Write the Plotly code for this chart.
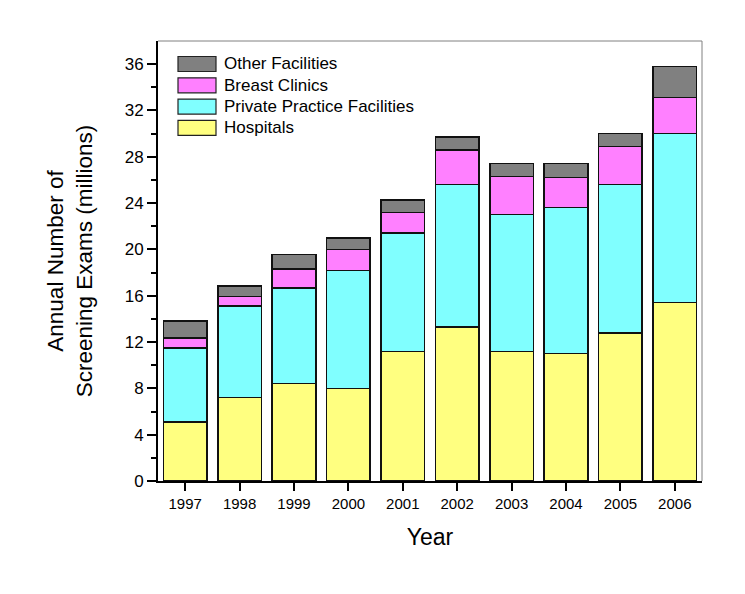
import plotly.graph_objects as go

years = [1997, 1998, 1999, 2000, 2001, 2002, 2003, 2004, 2005, 2006]
hospitals = [5.1, 7.2, 8.4, 8.0, 11.2, 13.3, 11.2, 11.0, 12.8, 15.4]
private_practice = [6.4, 7.9, 8.25, 10.2, 10.2, 12.3, 11.8, 12.6, 12.8, 14.6]
breast_clinics = [0.85, 0.85, 1.65, 1.8, 1.8, 3.0, 3.3, 2.6, 3.3, 3.1]
other_facilities = [1.45, 0.9, 1.25, 1.0, 1.05, 1.1, 1.1, 1.2, 1.1, 2.7]

series = [
    ("Hospitals", hospitals, "#FFFF80"),
    ("Private Practice Facilities", private_practice, "#80FFFF"),
    ("Breast Clinics", breast_clinics, "#FF80FF"),
    ("Other Facilities", other_facilities, "#808080"),
]

fig = go.Figure()
for name, vals, col in series:
    fig.add_trace(go.Bar(
        x=years, y=vals, name=name,
        marker=dict(color=col, line=dict(color="#111111", width=1.5)),
        width=0.8, showlegend=False,
    ))

# target plot area in page pixels; page body has an 8px margin
OFF = 8
L, R, T, B = 158, 702, 41, 481
W, H = R - L, B - T

def px(xp):
    return (xp - L) / W

def py(yp):
    return (B - yp) / H

shapes = [
    dict(type="line", xref="paper", yref="paper", x0=0, x1=1, y0=1, y1=1,
         line=dict(color="#808080", width=1)),
    dict(type="line", xref="paper", yref="paper", x0=1, x1=1, y0=0, y1=1,
         line=dict(color="#808080", width=1)),
]
annotations = []
legend_rows = list(reversed(series))
for i, (name, _, col) in enumerate(legend_rows):
    cy = 64 + i * 21.3
    shapes.append(dict(type="rect", xref="paper", yref="paper",
                       x0=px(178), x1=px(216), y0=py(cy - 7.5), y1=py(cy + 7.5),
                       fillcolor=col, line=dict(color="#222222", width=1.2)))
    annotations.append(dict(xref="paper", yref="paper", x=px(222), y=py(cy),
                            xanchor="left", yanchor="middle", text=name,
                            showarrow=False, font=dict(size=17)))

font = "Liberation Sans, Arial, sans-serif"
fig.update_layout(
    barmode="stack",
    width=745, height=594,
    margin=dict(l=L - OFF, r=745 - R + OFF, t=T - OFF, b=594 - B + OFF),
    paper_bgcolor="white", plot_bgcolor="white",
    font=dict(family=font, color="black", size=15),
    showlegend=False,
    xaxis=dict(
        range=[1996.5, 2006.5], tickmode="array", tickvals=years,
        ticktext=[str(y) for y in years],
        ticks="outside", ticklen=8, tickwidth=1.5, tickcolor="black",
        showline=True, linecolor="black", linewidth=2,
        showgrid=False, zeroline=False, automargin=False,
        title=dict(text="Year", font=dict(size=23), standoff=18),
        tickfont=dict(size=15),
    ),
    yaxis=dict(
        range=[0, 38], tickmode="array", tickvals=list(range(0, 37, 4)),
        ticks="outside", ticklen=9, tickwidth=1.5, tickcolor="black",
        minor=dict(tickmode="array", tickvals=list(range(2, 38, 4)),
                   ticks="outside", ticklen=5, tickwidth=1.5, tickcolor="black"),
        showline=True, linecolor="black", linewidth=2,
        showgrid=False, zeroline=False, automargin=False,
        title=dict(text="Annual Number of<br>Screening Exams (millions)",
                   font=dict(size=22.5), standoff=26),
        tickfont=dict(size=17),
    ),
    shapes=shapes,
    annotations=annotations,
)

fig.write_html("out.html")
